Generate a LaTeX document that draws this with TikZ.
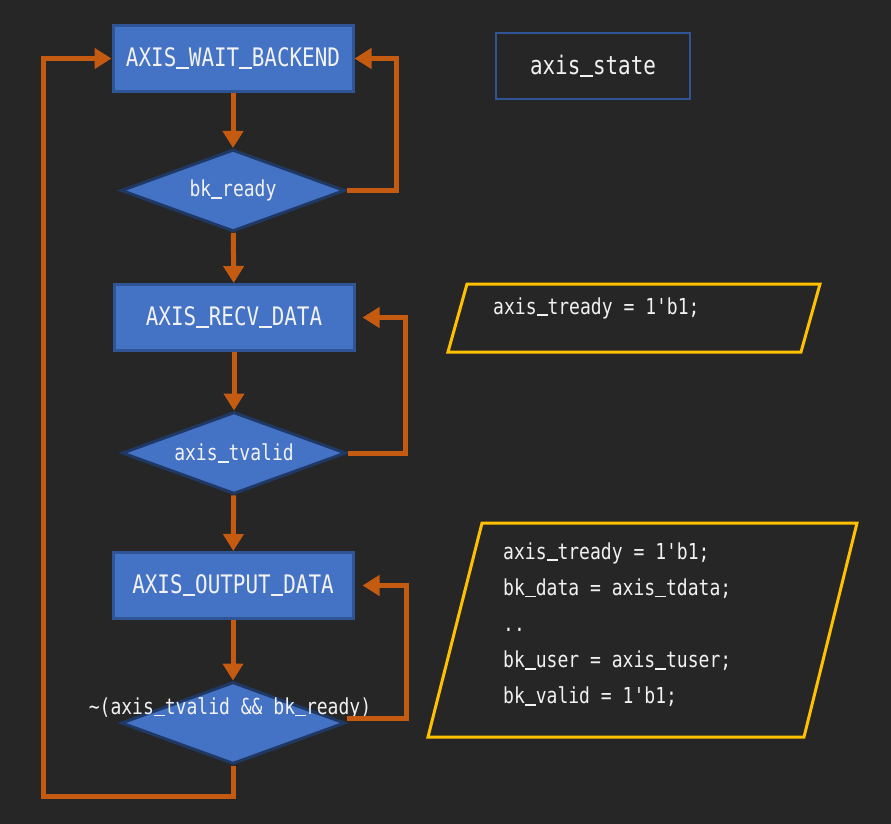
\documentclass[tikz,border=0pt]{standalone}
\usepackage{fontspec}
\newfontfamily\codefont{DejaVu Sans Mono}[FakeStretch=0.82]
\usetikzlibrary{positioning, calc, shapes.geometric, arrows.meta}
\definecolor{bgdark}{HTML}{262626}
\definecolor{boxblue}{HTML}{4472C4}
\definecolor{boxedge}{HTML}{2F5597}
\definecolor{dianavy}{HTML}{1F3864}
\definecolor{flowor}{HTML}{C55A11}
\definecolor{noteyel}{HTML}{FFC000}
\definecolor{txtwhite}{HTML}{F2F2F2}
\newcommand\uscore{\makebox[\fontcharwd\font`\_][c]{\rule[-0.1em]{\fontcharwd\font`\_}{0.08em}}}
\tikzset{
    state/.style={draw=boxedge, fill=boxblue, line width=3pt, minimum width=240pt, minimum height=66pt,
        text=txtwhite, font=\codefont\fontsize{25.5}{30}\selectfont},
    cond/.style={diamond, aspect=2.72, draw=dianavy, fill=boxblue, line width=3pt, minimum width=224pt, minimum height=82pt,
        inner sep=0pt, text=txtwhite, font=\codefont\fontsize{22}{26}\selectfont},
    flow/.style={draw=flowor, line width=5pt, -{Triangle[width=20pt,length=17pt]}},
    note/.style={draw=noteyel, line width=3pt},
    code/.style={text=txtwhite, inner sep=0pt, anchor=base west, font=\codefont\fontsize{22}{26}\selectfont}
}
\begin{document}
\begin{tikzpicture}[x=1pt, y=-1pt]
        \fill[bgdark] (0,0) rectangle (891,824);
        \useasboundingbox (0,0) rectangle (891,824);
        %States and conditions
        \node[state] (wait) at (233,58.5) {AXIS\uscore WAIT\uscore BACKEND};
        \node[cond] (bkrdy) at (233,190.5) {bk\uscore ready};
        \node[state] (recv) at (234,317.5) {AXIS\uscore RECV\uscore DATA};
        \node[cond] (tvld) at (234,453) {axis\uscore tvalid};
        \node[state] (outp) at (233,585.5) {AXIS\uscore OUTPUT\uscore DATA};
        \node[cond] (both) at (233,723) {};
        \node[text=txtwhite, font=\codefont\fontsize{22}{26}\selectfont] (bothtxt) at ([xshift=-3pt, yshift=15pt]both.center)
            {\textasciitilde(axis\uscore tvalid \&\& bk\uscore ready)};
        %Legend
        \node[draw=boxedge, line width=2.5pt, minimum width=194pt, minimum height=66pt, text=txtwhite,
            font=\codefont\fontsize{25.5}{30}\selectfont] (legend) at (593,66) {axis\uscore state};
        %Notes
        \coordinate (n1SW) at (448,352); \coordinate (n1NW) at (467,284);
        \coordinate (n1NE) at (820,284); \coordinate (n1SE) at (801,352);
        \draw[note] (n1SW) -- (n1NW) -- (n1NE) -- (n1SE) -- cycle;
        \node[code] (recvcode) at (493,314) {axis\uscore tready = 1'b1;};
        \coordinate (n2SW) at (428,737); \coordinate (n2NW) at (482,523);
        \coordinate (n2NE) at (857,523); \coordinate (n2SE) at (804,737);
        \draw[note] (n2SW) -- (n2NW) -- (n2NE) -- (n2SE) -- cycle;
        \foreach \t [count=\i] in {axis\uscore tready = 1'b1;, bk\uscore data = axis\uscore tdata;, ..,
                bk\uscore user = axis\uscore tuser;, bk\uscore valid = 1'b1;}{
            \node[code] (outcode\i) at (503,{559+36.2*(\i-1)}) {\t};
        }
        %Extra coordinates for path
        \coordinate (loopBL) at (43,796);
        %Paths (top-down)
        \draw[flow] (wait) -- (bkrdy);
        \draw[flow] (bkrdy) -- (recv);
        \draw[flow] (recv) -- (tvld);
        \draw[flow] (tvld) -- (outp);
        \draw[flow] (outp) -- (both);
        \draw[flow] (bkrdy.east) -| ($(wait.east)+(42,0)$) -- (wait.east);
        \draw[flow] (tvld.east) -| ($(recv.east)+(50,0)$) -- ([xshift=7pt]recv.east);
        \draw[flow] ([yshift=5pt]both.east) -| ($(outp.east)+(52,0)$) -- ([xshift=8pt]outp.east);
        \draw[flow] (both.south) |- (loopBL) |- (wait.west);
\end{tikzpicture}
\end{document}
